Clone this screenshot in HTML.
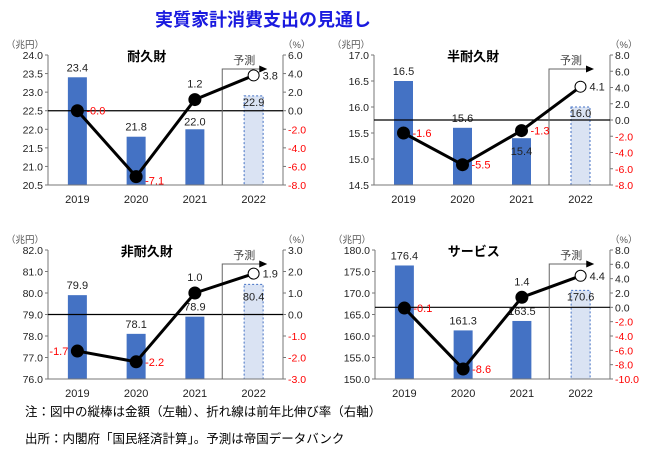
<!DOCTYPE html>
<html><head><meta charset="utf-8"><style>
body{margin:0;background:#fff;width:650px;height:449px;overflow:hidden;font-family:"Liberation Sans","Noto Sans CJK JP",sans-serif;}
svg text{font-family:"Liberation Sans","Noto Sans CJK JP",sans-serif;}
</style></head><body>
<svg id="chart" width="650" height="449" xmlns="http://www.w3.org/2000/svg">
<text x="263" y="26" text-anchor="middle" font-size="18" font-weight="bold" fill="#1a1adf">実質家計消費支出の見通し</text>
<text x="25" y="416" font-size="12.5" fill="#000">注：図中の縦棒は金額（左軸）、折れ線は前年比伸び率（右軸）</text>
<text x="25" y="443" font-size="12.5" fill="#000">出所：内閣府「国民経済計算」。予測は帝国データバンク</text>
</svg>
<script>
const categories = ["2019","2020","2021","2022"];
const durableBars = [23.4, 21.8, 22.0, 22.9];
const durableGrowth = [-0.0, -7.1, 1.2, 3.8];
const semiBars = [16.5, 15.6, 15.4, 16.0];
const semiGrowth = [-1.6, -5.5, -1.3, 4.1];
const nonDurableBars = [79.9, 78.1, 78.9, 80.4];
const nonDurableGrowth = [-1.7, -2.2, 1.0, 1.9];
const serviceBars = [176.4, 161.3, 163.5, 170.6];
const serviceGrowth = [-0.1, -8.6, 1.4, 4.4];
const durableLeftTicks = [20.5,21.0,21.5,22.0,22.5,23.0,23.5,24.0];
const durableRightTicks = [-8,-6,-4,-2,0,2,4,6];
const semiLeftTicks = [14.5,15.0,15.5,16.0,16.5,17.0];
const semiRightTicks = [-8,-6,-4,-2,0,2,4,6,8];
const nonDurableLeftTicks = [76,77,78,79,80,81,82];
const nonDurableRightTicks = [-3,-2,-1,0,1,2,3];
const serviceLeftTicks = [150,155,160,165,170,175,180];
const serviceRightTicks = [-10,-8,-6,-4,-2,0,2,4,6,8];

const panels = [
 {name:"durable",title:"耐久財",x0:48,x1:283,y0:55,y1:185,bars:durableBars,growth:durableGrowth,lt:durableLeftTicks,rt:durableRightTicks,
  bp:["above","above","below","in"],gp:["right","rightlow","above","right"]},
 {name:"semi-durable",title:"半耐久財",x0:374,x1:610,y0:55,y1:185,bars:semiBars,growth:semiGrowth,lt:semiLeftTicks,rt:semiRightTicks,
  bp:["above","above","below","in"],gp:["right","right","right","right"]},
 {name:"non-durable",title:"非耐久財",x0:48,x1:283,y0:250,y1:379,bars:nonDurableBars,growth:nonDurableGrowth,lt:nonDurableLeftTicks,rt:nonDurableRightTicks,
  bp:["above","above","above","in2"],gp:["left","right","above","right"]},
 {name:"services",title:"サービス",x0:375,x1:610,y0:250,y1:379,bars:serviceBars,growth:serviceGrowth,lt:serviceLeftTicks,rt:serviceRightTicks,
  bp:["above","above","above","in"],gp:["right","right","above","right"]}
];
const NS="http://www.w3.org/2000/svg";
const svg=document.getElementById("chart");
function mk(tag,attrs,parent){const e=document.createElementNS(NS,tag);for(const k in attrs)e.setAttribute(k,attrs[k]);(parent||svg).appendChild(e);return e;}
function txt(s,attrs,parent){const e=mk("text",attrs,parent);e.textContent=s;return e;}

panels.forEach(p=>{
  const g=mk("g",{});
  
  
  const lmin=p.lt[0],lmax=p.lt[p.lt.length-1],rmin=p.rt[0],rmax=p.rt[p.rt.length-1];
  const yL=v=>p.y1-(v-lmin)/(lmax-lmin)*(p.y1-p.y0);
  const yR=v=>p.y1-(v-rmin)/(rmax-rmin)*(p.y1-p.y0);
  const step=(p.x1-p.x0)/categories.length;
  const xC=i=>p.x0+step*(i+0.5);
  const bw=19;
  p.bars.forEach((v,i)=>{
    const y=yL(v);
    const last=i===categories.length-1;
    const r=mk("rect",{x:xC(i)-bw/2,y:y,width:bw,height:p.y1-y,fill:last?"#dae3f3":"#4472c4",stroke:last?"#4472c4":"none","stroke-dasharray":last?"2,2":"none","stroke-width":1},g);
    
    
    let ly;const pos=p.bp[i];
    if(pos==="above")ly=y-6;else if(pos==="below")ly=y-4;else if(pos==="in")ly=y+10;else ly=y+16;
    if(pos==="below"&&p.name==="semi-durable")ly=y+17;
    const t=txt(v.toFixed(1),{x:xC(i),y:ly,"text-anchor":"middle","font-size":11,fill:"#222"},g);
    
    
  });
  mk("line",{x1:p.x0,y1:p.y0,x2:p.x0,y2:p.y1,stroke:"#777"},g);
  mk("line",{x1:p.x1,y1:p.y0,x2:p.x1,y2:p.y1,stroke:"#777"},g);
  mk("line",{x1:p.x0,y1:p.y1,x2:p.x1,y2:p.y1,stroke:"#777"},g);
  p.lt.forEach(v=>{
    mk("line",{x1:p.x0-3,y1:yL(v),x2:p.x0,y2:yL(v),stroke:"#777"},g);
    const t=txt(v.toFixed(1),{x:p.x0-5,y:yL(v)+4,"text-anchor":"end","font-size":10.5,fill:"#222"},g);
    
    
  });
  p.rt.forEach(v=>{
    mk("line",{x1:p.x1,y1:yR(v),x2:p.x1+3,y2:yR(v),stroke:"#777"},g);
    const t=txt(v.toFixed(1),{x:p.x1+5,y:yR(v)+4,"font-size":10.5,fill:v<0?"#ff0000":"#222"},g);
    
    
  });
  categories.forEach((c,i)=>{
    const t=txt(c,{x:xC(i),y:p.y1+18,"text-anchor":"middle","font-size":11,fill:"#222"},g);
    
    
  });
  const u=txt("（兆円）",{x:p.x0-42,y:p.y0-7,"font-size":9.5,fill:"#555"},g);
  
  
  const u2=txt("（%）",{x:p.x1,y:p.y0-7,"font-size":9.5,fill:"#555"},g);
  
  
  const tt=txt(p.title,{x:p.x0+(p.x1-p.x0)*0.42,y:p.y0+6,"text-anchor":"middle","font-size":13,"font-weight":"bold",fill:"#000"},g);
  
  
  mk("line",{x1:p.x0,y1:yR(0),x2:p.x1,y2:yR(0),stroke:"#000","stroke-width":1.2},g);
  const bx=p.x0+step*3-2, by=p.y0+14;
  mk("polyline",{points:`${bx},${p.y1} ${bx},${by} ${bx+38},${by}`,fill:"none",stroke:"#666"},g);
  mk("polygon",{points:`${bx+45},${by} ${bx+37},${by-3.5} ${bx+37},${by+3.5}`,fill:"#000"},g);
  const fl=txt("予測",{x:bx+22,y:by-5,"text-anchor":"middle","font-size":11,fill:"#444"},g);
  
  
  const pts=p.growth.map((v,i)=>xC(i)+","+yR(v)).join(" ");
  const pl=mk("polyline",{points:pts,fill:"none",stroke:"#000","stroke-width":3},g);
  
  
  p.growth.forEach((v,i)=>{
    const last=i===categories.length-1;
    const c=mk("circle",{cx:xC(i),cy:yR(v),r:last?5.5:6,fill:last?"#fff":"#000",stroke:"#000","stroke-width":1},g);
    
    
    const s=(Object.is(v,-0)||(v===0&&i===0&&p.name==="durable"))?"-0.0":v.toFixed(1);
    const neg=s[0]==="-";
    let x=xC(i)+9,y=yR(v)+4,anc="start";const pos=p.gp[i];
    if(pos==="above"){x=xC(i);y=yR(v)-12;anc="middle";}
    else if(pos==="left"){x=xC(i)-9;anc="end";}
    else if(pos==="rightlow"){y=yR(v)+8;}
    const t=txt(s,{x:x,y:y,"text-anchor":anc,"font-size":11,fill:neg?"#ff0000":"#222"},g);
    
    
  });
});
</script>
</body></html>
